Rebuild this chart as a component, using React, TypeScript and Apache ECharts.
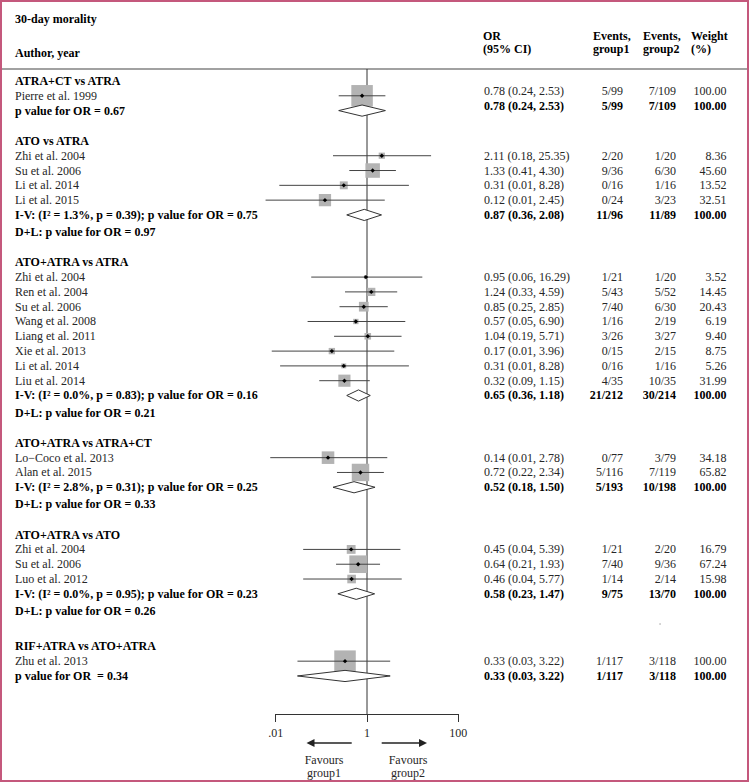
import React, { useEffect, useRef } from "react";
import * as echarts from "echarts";

// ---------------- DATA ----------------
const TITLE = "30-day morality";
const GROUP_TITLES = [
  "ATRA+CT vs ATRA",
  "ATO vs ATRA",
  "ATO+ATRA vs ATRA",
  "ATO+ATRA vs ATRA+CT",
  "ATO+ATRA vs ATO",
  "RIF+ATRA vs ATO+ATRA",
];

const STUDY_GROUP = [0, 1, 1, 1, 1, 2, 2, 2, 2, 2, 2, 2, 2, 3, 3, 4, 4, 4, 5];
const STUDY_NAMES = [
  "Pierre et al. 1999",
  "Zhi et al. 2004", "Su et al. 2006", "Li et al. 2014", "Li et al. 2015",
  "Zhi et al. 2004", "Ren et al. 2004", "Su et al. 2006", "Wang et al. 2008",
  "Liang et al. 2011", "Xie et al. 2013", "Li et al. 2014", "Liu et al. 2014",
  "Lo\u2212Coco et al. 2013", "Alan et al. 2015",
  "Zhi et al. 2004", "Su et al. 2006", "Luo et al. 2012",
  "Zhu et al. 2013",
];
const STUDY_OR = [0.78, 2.11, 1.33, 0.31, 0.12, 0.95, 1.24, 0.85, 0.57, 1.04, 0.17, 0.31, 0.32, 0.14, 0.72, 0.45, 0.64, 0.46, 0.33];
const STUDY_LO = [0.24, 0.18, 0.41, 0.012, 0.006, 0.06, 0.33, 0.25, 0.05, 0.19, 0.0082, 0.0125, 0.09, 0.0076, 0.22, 0.04, 0.21, 0.04, 0.03];
const STUDY_HI = [2.53, 25.35, 4.30, 8.28, 2.45, 16.29, 4.59, 2.85, 6.90, 5.71, 3.96, 8.28, 1.15, 2.78, 2.34, 5.39, 1.93, 5.77, 3.22];
const STUDY_EV1 = ["5/99", "2/20", "9/36", "0/16", "0/24", "1/21", "5/43", "7/40", "1/16", "3/26", "0/15", "0/16", "4/35", "0/77", "5/116", "1/21", "7/40", "1/14", "1/117"];
const STUDY_EV2 = ["7/109", "1/20", "6/30", "1/16", "3/23", "1/20", "5/52", "6/30", "2/19", "3/27", "2/15", "1/16", "10/35", "3/79", "7/119", "2/20", "9/36", "2/14", "3/118"];
const STUDY_WEIGHT = [100.0, 8.36, 45.6, 13.52, 32.51, 3.52, 14.45, 20.43, 6.19, 9.4, 8.75, 5.26, 31.99, 34.18, 65.82, 16.79, 67.24, 15.98, 100.0];

const POOLED_LABELS = [
  "p value for OR = 0.67",
  "I-V: (I\u00B2 = 1.3%, p = 0.39); p value for OR = 0.75",
  "I-V: (I\u00B2 = 0.0%, p = 0.83); p value for OR = 0.16",
  "I-V: (I\u00B2 = 2.8%, p = 0.31); p value for OR = 0.25",
  "I-V: (I\u00B2 = 0.0%, p = 0.95); p value for OR = 0.23",
  "p value for OR  = 0.34",
];
const POOLED_OR = [0.78, 0.87, 0.65, 0.52, 0.58, 0.33];
const POOLED_LO = [0.24, 0.36, 0.36, 0.18, 0.23, 0.03];
const POOLED_HI = [2.53, 2.08, 1.18, 1.5, 1.47, 3.22];
const POOLED_EV1 = ["5/99", "11/96", "21/212", "5/193", "9/75", "1/117"];
const POOLED_EV2 = ["7/109", "11/89", "30/214", "10/198", "13/70", "3/118"];
const POOLED_WEIGHT = [100.0, 100.0, 100.0, 100.0, 100.0, 100.0];
const DL_LABELS = [
  "",
  "D+L: p value for OR = 0.97",
  "D+L: p value for OR = 0.21",
  "D+L: p value for OR = 0.33",
  "D+L: p value for OR = 0.26",
  "",
];

const AXIS_TICKS = [0.01, 1, 100];
const AXIS_TICK_LABELS = [".01", "1", "100"];
const FAVOURS = ["Favours\ngroup1", "Favours\ngroup2"];

// ---------------- LAYOUT ----------------
const FONT = '"Liberation Serif", "Times New Roman", serif';
const GROUP_GAP = [0, 2.05, 2.05, 2.05, 2.05, 2.4];
const DL_STEP = 1.15;
const Y_MIN = -0.81;
const Y_MAX = 42.77;
const GRID_TOP = 69;
const GRID_BOTTOM_Y = 714;
const X_LEFT = 275.7;
const X_RIGHT = 458.3;
const SQUARE_MAX = 21.5;
const COL_LABEL = 15;
const COL_OR = 484;
const COL_EV1 = 623;
const COL_EV2 = 676;
const COL_W = 726.5;
const NORMAL_COLOR = "#262626";
const BOLD_COLOR = "#000";

type Row = { pos: number; kind: "header" | "study" | "pooled" | "dl"; group: number; idx: number; label: string };

function buildRows(): Row[] {
  const rows: Row[] = [];
  let pos = 0;
  GROUP_TITLES.forEach((t, g) => {
    if (g > 0) pos += GROUP_GAP[g];
    rows.push({ pos, kind: "header", group: g, idx: g, label: t });
    STUDY_GROUP.forEach((sg, i) => {
      if (sg === g) {
        pos += 1;
        rows.push({ pos, kind: "study", group: g, idx: i, label: STUDY_NAMES[i] });
      }
    });
    pos += 1;
    rows.push({ pos, kind: "pooled", group: g, idx: g, label: POOLED_LABELS[g] });
    if (DL_LABELS[g]) {
      pos += DL_STEP;
      rows.push({ pos, kind: "dl", group: g, idx: g, label: DL_LABELS[g] });
    }
  });
  return rows;
}

const fmt = (v: number) => v.toFixed(2);

export default function App() {
  const ref = useRef<HTMLDivElement>(null);

  useEffect(() => {
    document.body.style.margin = "0";
    const chart = echarts.init(ref.current!, null, { renderer: "svg" });
    const rows = buildRows();

    const studyData = rows
      .filter((r) => r.kind === "study")
      .map((r) => [STUDY_OR[r.idx], r.pos, STUDY_LO[r.idx], STUDY_HI[r.idx], STUDY_WEIGHT[r.idx]]);
    const pooledData = rows
      .filter((r) => r.kind === "pooled")
      .map((r) => [POOLED_OR[r.idx], r.pos, POOLED_LO[r.idx], POOLED_HI[r.idx]]);
    const textData = rows.map((r, k) => [1, r.pos, k]);

    const textEl = (text: string, x: number, y: number, align: string, bold: boolean) => ({
      type: "text",
      x,
      y,
      style: {
        text,
        align,
        verticalAlign: "middle",
        font: `${bold ? "bold " : ""}12px ${FONT}`,
        fill: bold ? BOLD_COLOR : NORMAL_COLOR,
      },
    });

    const hdr = (text: string, x: number, y: number) => ({
      type: "text",
      x,
      y,
      style: { text, font: `bold 12px ${FONT}`, fill: BOLD_COLOR, verticalAlign: "middle" },
    });

    const option: any = {
      animation: false,
      backgroundColor: "#fff",
      grid: {
        left: X_LEFT,
        right: 751 - X_RIGHT,
        top: GRID_TOP,
        bottom: 783 - GRID_BOTTOM_Y,
        containLabel: false,
      },
      xAxis: {
        type: "log",
        logBase: 100,
        position: "bottom",
        min: AXIS_TICKS[0],
        max: AXIS_TICKS[AXIS_TICKS.length - 1],
        axisLine: { show: true, onZero: false, lineStyle: { color: "#333", width: 1 } },
        axisTick: { show: true, inside: false, length: 8, lineStyle: { color: "#333", width: 1 } },
        splitLine: { show: false },
        axisLabel: {
          margin: 13,
          fontFamily: FONT,
          fontSize: 12,
          color: NORMAL_COLOR,
          formatter: (v: number) => {
            const i = AXIS_TICKS.findIndex((t) => Math.abs(Math.log10(t) - Math.log10(v)) < 1e-6);
            return i >= 0 ? AXIS_TICK_LABELS[i] : "";
          },
        },
      },
      yAxis: { type: "value", min: Y_MIN, max: Y_MAX, inverse: true, show: false },
      series: [
        {
          type: "line",
          data: [
            [1, Y_MIN],
            [1, Y_MAX],
          ],
          symbol: "none",
          lineStyle: { color: "#333", width: 1 },
          silent: true,
          z: 1,
        },
        {
          type: "custom",
          clip: false,
          silent: true,
          z: 3,
          data: studyData,
          renderItem: (_p: any, api: any) => {
            const or = api.value(0);
            const pos = api.value(1);
            const lo = api.value(2);
            const hi = api.value(3);
            const w = api.value(4);
            const [xo, y] = api.coord([or, pos]);
            const xl = api.coord([lo, pos])[0];
            const xh = api.coord([hi, pos])[0];
            const side = SQUARE_MAX * Math.sqrt(w / 100);
            const d = 2.2;
            return {
              type: "group",
              children: [
                {
                  type: "rect",
                  shape: { x: xo - side / 2, y: y - side / 2, width: side, height: side },
                  style: { fill: "#b3b3b3" },
                },
                {
                  type: "line",
                  shape: { x1: xl, y1: y, x2: xh, y2: y },
                  style: { stroke: "#444", lineWidth: 1 },
                },
                {
                  type: "polygon",
                  shape: { points: [[xo - d, y], [xo, y - d], [xo + d, y], [xo, y + d]] },
                  style: { fill: "#000" },
                },
              ],
            };
          },
        },
        {
          type: "custom",
          clip: false,
          silent: true,
          z: 3,
          data: pooledData,
          renderItem: (_p: any, api: any) => {
            const or = api.value(0);
            const pos = api.value(1);
            const [xo, y] = api.coord([or, pos]);
            const xl = api.coord([api.value(2), pos])[0];
            const xh = api.coord([api.value(3), pos])[0];
            const h = 5.6;
            return {
              type: "polygon",
              shape: { points: [[xl, y], [xo, y - h], [xh, y], [xo, y + h]] },
              style: { fill: "#fff", stroke: "#333", lineWidth: 1 },
            };
          },
        },
        {
          type: "custom",
          clip: false,
          silent: true,
          z: 4,
          data: textData,
          renderItem: (_p: any, api: any) => {
            const r = rows[api.value(2)];
            const y = api.coord([1, r.pos])[1];
            const children: any[] = [];
            const bold = r.kind !== "study";
            children.push(textEl(r.label, COL_LABEL, y, "left", bold));
            const yr = r.group === 0 ? y - 5 : y;
            if (r.kind === "study") {
              const i = r.idx;
              children.push(textEl(`${fmt(STUDY_OR[i])} (${fmt(STUDY_LO[i])}, ${fmt(STUDY_HI[i])})`, COL_OR, yr, "left", false));
              children.push(textEl(STUDY_EV1[i], COL_EV1, yr, "right", false));
              children.push(textEl(STUDY_EV2[i], COL_EV2, yr, "right", false));
              children.push(textEl(fmt(STUDY_WEIGHT[i]), COL_W, yr, "right", false));
            } else if (r.kind === "pooled") {
              const g = r.idx;
              children.push(textEl(`${fmt(POOLED_OR[g])} (${fmt(POOLED_LO[g])}, ${fmt(POOLED_HI[g])})`, COL_OR, yr, "left", true));
              children.push(textEl(POOLED_EV1[g], COL_EV1, yr, "right", true));
              children.push(textEl(POOLED_EV2[g], COL_EV2, yr, "right", true));
              children.push(textEl(fmt(POOLED_WEIGHT[g]), COL_W, yr, "right", true));
            }
            return { type: "group", children };
          },
        },
      ],
      graphic: [
        {
          type: "rect",
          shape: { x: 1, y: 1, width: 747, height: 780 },
          style: { fill: "none", stroke: "#c4587c", lineWidth: 2 },
          z: 10,
        },
        {
          type: "line",
          shape: { x1: 1, y1: GRID_TOP, x2: 748, y2: GRID_TOP },
          style: { stroke: "#444", lineWidth: 1.2 },
        },
        hdr(TITLE, COL_LABEL, 18.5),
        hdr("Author, year", COL_LABEL, 53),
        hdr("OR", 483, 36),
        hdr("(95% CI)", 483, 49),
        hdr("Events,", 593, 36),
        hdr("group1", 593, 49),
        hdr("Events,", 643, 36),
        hdr("group2", 643, 49),
        hdr("Weight", 691, 36),
        hdr("(%)", 691, 49),
        { type: "circle", shape: { cx: 660, cy: 624, r: 0.7 }, style: { fill: "#999" } },
        // arrows
        { type: "line", shape: { x1: 351.7, y1: 743, x2: 313, y2: 743 }, style: { stroke: "#222", lineWidth: 1.3 } },
        { type: "polygon", shape: { points: [[306.5, 743], [314.5, 739], [314.5, 747]] }, style: { fill: "#222" } },
        { type: "line", shape: { x1: 381.7, y1: 743, x2: 420, y2: 743 }, style: { stroke: "#222", lineWidth: 1.3 } },
        { type: "polygon", shape: { points: [[427, 743], [419, 739], [419, 747]] }, style: { fill: "#222" } },
        { type: "text", x: 324, y: 766.5, style: { text: FAVOURS[0], font: `12px ${FONT}`, fill: NORMAL_COLOR, align: "center", verticalAlign: "middle", lineHeight: 13.5 } },
        { type: "text", x: 408, y: 766.5, style: { text: FAVOURS[1], font: `12px ${FONT}`, fill: NORMAL_COLOR, align: "center", verticalAlign: "middle", lineHeight: 13.5 } },
      ],
    };

    chart.setOption(option);
    return () => chart.dispose();
  }, []);

  return <div ref={ref} style={{ width: 751, height: 783 }} />;
}
